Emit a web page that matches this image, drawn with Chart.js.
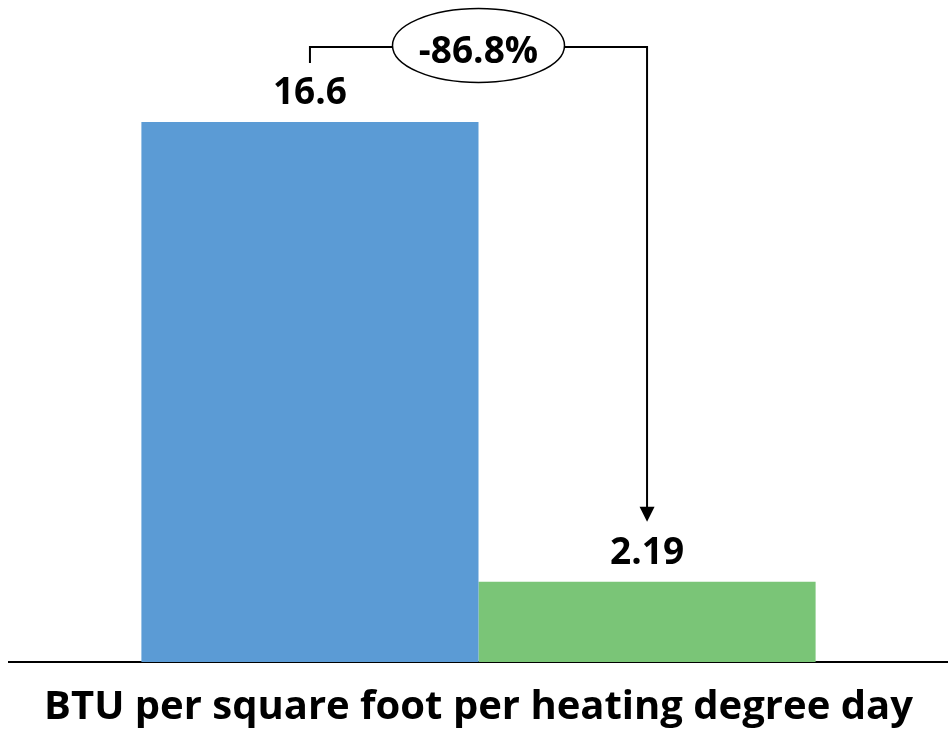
<!DOCTYPE html>
<html>
<head>
<meta charset="utf-8">
<script src="https://cdn.jsdelivr.net/npm/chart.js@4"></script>
<style>
  html, body { margin: 0; padding: 0; background: #fff; }
  #wrap { width: 948px; height: 733px; }
</style>
</head>
<body>
<div id="wrap"><canvas id="chart"></canvas></div>
<script>
const categories = ['BTU per square foot per heating degree day'];
const seriesNames = ['Before', 'After'];
const seriesValues = [16.6, 2.19];
const valueLabels = ['16.6', '2.19'];
const changeLabel = '-86.8%';
const barColors = ['#5B9BD5', '#7AC577'];

const FONT = "'Open Sans', 'DejaVu Sans', sans-serif";

// bracket with ellipse and arrow, from first bar down to second bar
const annotationPlugin = {
  id: 'changeBracket',
  afterDatasetsDraw(chart) {
    const ctx = chart.ctx;
    const a = chart.getDatasetMeta(0).data[0];
    const b = chart.getDatasetMeta(1).data[0];
    const lineY = 47;
    const cx = (a.x + b.x) / 2;

    ctx.save();
    // value labels
    ctx.fillStyle = '#000';
    ctx.font = 'bold 37px ' + FONT;
    ctx.textAlign = 'center';
    ctx.textBaseline = 'alphabetic';
    [a, b].forEach((bar, i) => {
      ctx.fillText(valueLabels[i], bar.x, bar.y - 18);
    });

    // bracket
    ctx.strokeStyle = '#000';
    ctx.lineWidth = 2;
    ctx.beginPath();
    ctx.moveTo(a.x, a.y - 59);
    ctx.lineTo(a.x, lineY);
    ctx.lineTo(b.x, lineY);
    ctx.lineTo(b.x, b.y - 74);
    ctx.stroke();

    // arrow head
    ctx.fillStyle = '#000';
    ctx.beginPath();
    ctx.moveTo(b.x - 7.5, b.y - 75);
    ctx.lineTo(b.x + 7.5, b.y - 75);
    ctx.lineTo(b.x, b.y - 60);
    ctx.closePath();
    ctx.fill();

    // ellipse
    ctx.beginPath();
    ctx.ellipse(cx, 45.5, 86, 37, 0, 0, Math.PI * 2);
    ctx.fillStyle = '#fff';
    ctx.fill();
    ctx.lineWidth = 1.5;
    ctx.stroke();

    ctx.fillStyle = '#000';
    ctx.font = 'bold 37px ' + FONT;
    ctx.fillText(changeLabel, cx, 63);
    ctx.restore();
  }
};

new Chart(document.getElementById('chart'), {
  type: 'bar',
  data: {
    labels: categories,
    datasets: seriesNames.map((name, i) => ({
      label: name,
      data: [seriesValues[i]],
      backgroundColor: barColors[i],
      base: -0.33,
      barPercentage: 1,
      categoryPercentage: 0.718
    }))
  },
  options: {
    responsive: true,
    maintainAspectRatio: false,
    animation: false,
    layout: { padding: { left: 9, right: 0, top: 13.6, bottom: 0 } },
    plugins: {
      legend: { display: false },
      tooltip: { enabled: false }
    },
    scales: {
      x: {
        grid: { display: false, drawTicks: false },
        border: { display: true, color: '#000', width: 2 },
        ticks: { display: false },
        title: {
          display: true,
          text: categories[0],
          color: '#000',
          font: { family: FONT, size: 40, weight: 'bold' },
          padding: { top: 22, bottom: 1 }
        }
      },
      y: {
        display: false,
        min: -0.33,
        max: 20
      }
    }
  },
  plugins: [annotationPlugin]
});
</script>
</body>
</html>
